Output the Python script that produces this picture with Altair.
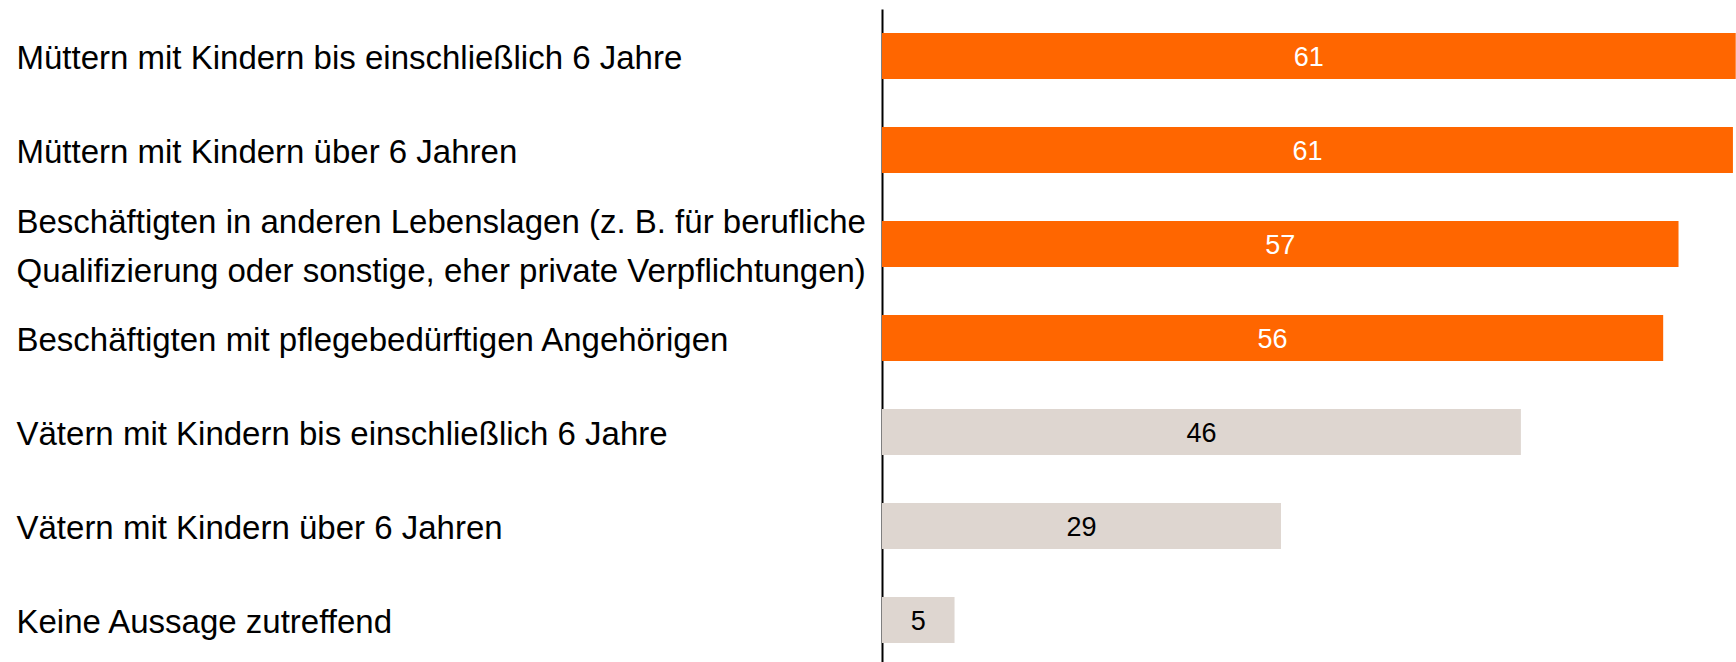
import altair as alt
import pandas as pd

categories = [
    "Müttern mit Kindern bis einschließlich 6 Jahre",
    "Müttern mit Kindern über 6 Jahren",
    "Beschäftigten in anderen Lebenslagen (z. B. für berufliche|Qualifizierung oder sonstige, eher private Verpflichtungen)",
    "Beschäftigten mit pflegebedürftigen Angehörigen",
    "Vätern mit Kindern bis einschließlich 6 Jahre",
    "Vätern mit Kindern über 6 Jahren",
    "Keine Aussage zutreffend",
]
values = [61.2, 61.0, 57.1, 56.0, 45.8, 28.6, 5.2]
value_labels = ["61", "61", "57", "56", "46", "29", "5"]
bar_colors = ["#FF6600", "#FF6600", "#FF6600", "#FF6600", "#DED6D0", "#DED6D0", "#DED6D0"]
text_colors = ["#FFFFFF", "#FFFFFF", "#FFFFFF", "#FFFFFF", "#000000", "#000000", "#000000"]

df = pd.DataFrame({
    "category": categories,
    "value": values,
    "label": value_labels,
    "barcolor": bar_colors,
    "textcolor": text_colors,
})

FONT = "Liberation Sans Narrow, Arial Narrow, Liberation Sans, sans-serif"

y_enc = alt.Y(
    "category:N",
    sort=categories,
    scale=alt.Scale(range=[0, 658], paddingInner=0.51, paddingOuter=0.255),
    axis=alt.Axis(
        title=None,
        ticks=False,
        domain=True,
        domainColor="#000000",
        domainWidth=2,
        labelAlign="left",
        labelBaseline="middle",
        labelPadding=866,
        labelLimit=1000,
        labelFont=FONT,
        labelFontSize=33,
        labelColor="#000000",
        labelLineHeight=49,
        labelOffset={"condition": {"test": "indexof(datum.label, '|') >= 0", "value": -21}, "value": 3},
        labelExpr="split(datum.label, '|')",
        grid=False,
    ),
)

x_scale = alt.Scale(domain=[0, 61.22], nice=False, zero=True)

base = alt.Chart(df)

bars = base.mark_bar(clip=False).encode(
    x=alt.X("value:Q", scale=x_scale, axis=None),
    y=y_enc,
    color=alt.Color("barcolor:N", scale=None, legend=None),
)

texts = base.transform_calculate(mid="datum.value / 2").mark_text(
    font=FONT, fontSize=27, align="center", baseline="middle", dy=2
).encode(
    x=alt.X("mid:Q", scale=x_scale, axis=None),
    y=alt.Y("category:N", sort=categories),
    text="label:N",
    color=alt.Color("textcolor:N", scale=None, legend=None),
)

chart = alt.layer(bars, texts).properties(
    width=854,
    height=653,
    autosize=alt.AutoSizeParams(type="none"),
    padding={"left": 882, "top": 9, "right": 0, "bottom": 0},
    background="white",
).configure_view(stroke=None)

chart.save("out.html", embed_options={"renderer": "svg", "actions": False})
